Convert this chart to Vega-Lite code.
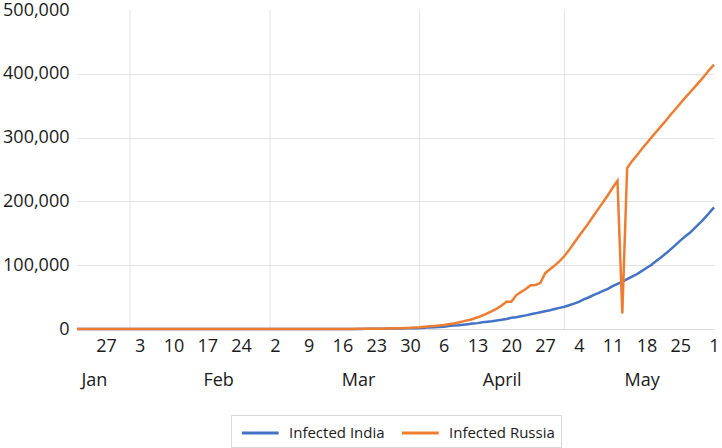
{
  "$schema": "https://vega.github.io/schema/vega-lite/v6.json",
  "width": 637,
  "height": 319,
  "padding": {"left": 2, "top": 1, "right": 0, "bottom": 0},
  "config": {
    "font": "Open Sans",
    "view": {"stroke": null},
    "axis": {"labelFont": "Open Sans", "labelColor": "#1a1a1a"},
    "legend": {"labelFont": "Open Sans", "labelColor": "#1a1a1a"}
  },
  "datasets": {
    "months": [
      {"date": "2020-02-01"}, {"date": "2020-03-01"}, {"date": "2020-04-01"}, {"date": "2020-05-01"}
    ],
    "cases": [
      {"date": "2020-01-21", "Infected India": 0, "Infected Russia": 0},
      {"date": "2020-01-22", "Infected India": 0, "Infected Russia": 0},
      {"date": "2020-01-23", "Infected India": 0, "Infected Russia": 0},
      {"date": "2020-01-24", "Infected India": 0, "Infected Russia": 0},
      {"date": "2020-01-25", "Infected India": 0, "Infected Russia": 0},
      {"date": "2020-01-26", "Infected India": 0, "Infected Russia": 0},
      {"date": "2020-01-27", "Infected India": 0, "Infected Russia": 0},
      {"date": "2020-01-28", "Infected India": 0, "Infected Russia": 0},
      {"date": "2020-01-29", "Infected India": 0, "Infected Russia": 0},
      {"date": "2020-01-30", "Infected India": 0, "Infected Russia": 0},
      {"date": "2020-01-31", "Infected India": 1, "Infected Russia": 2},
      {"date": "2020-02-01", "Infected India": 1, "Infected Russia": 2},
      {"date": "2020-02-02", "Infected India": 1, "Infected Russia": 2},
      {"date": "2020-02-03", "Infected India": 2, "Infected Russia": 2},
      {"date": "2020-02-04", "Infected India": 3, "Infected Russia": 2},
      {"date": "2020-02-05", "Infected India": 3, "Infected Russia": 2},
      {"date": "2020-02-06", "Infected India": 3, "Infected Russia": 2},
      {"date": "2020-02-07", "Infected India": 3, "Infected Russia": 2},
      {"date": "2020-02-08", "Infected India": 3, "Infected Russia": 2},
      {"date": "2020-02-09", "Infected India": 3, "Infected Russia": 2},
      {"date": "2020-02-10", "Infected India": 3, "Infected Russia": 2},
      {"date": "2020-02-11", "Infected India": 3, "Infected Russia": 2},
      {"date": "2020-02-12", "Infected India": 3, "Infected Russia": 2},
      {"date": "2020-02-13", "Infected India": 3, "Infected Russia": 2},
      {"date": "2020-02-14", "Infected India": 3, "Infected Russia": 2},
      {"date": "2020-02-15", "Infected India": 3, "Infected Russia": 2},
      {"date": "2020-02-16", "Infected India": 3, "Infected Russia": 2},
      {"date": "2020-02-17", "Infected India": 3, "Infected Russia": 2},
      {"date": "2020-02-18", "Infected India": 3, "Infected Russia": 2},
      {"date": "2020-02-19", "Infected India": 3, "Infected Russia": 2},
      {"date": "2020-02-20", "Infected India": 3, "Infected Russia": 2},
      {"date": "2020-02-21", "Infected India": 3, "Infected Russia": 2},
      {"date": "2020-02-22", "Infected India": 3, "Infected Russia": 2},
      {"date": "2020-02-23", "Infected India": 3, "Infected Russia": 2},
      {"date": "2020-02-24", "Infected India": 3, "Infected Russia": 2},
      {"date": "2020-02-25", "Infected India": 3, "Infected Russia": 2},
      {"date": "2020-02-26", "Infected India": 3, "Infected Russia": 2},
      {"date": "2020-02-27", "Infected India": 3, "Infected Russia": 2},
      {"date": "2020-02-28", "Infected India": 3, "Infected Russia": 2},
      {"date": "2020-02-29", "Infected India": 3, "Infected Russia": 2},
      {"date": "2020-03-01", "Infected India": 3, "Infected Russia": 2},
      {"date": "2020-03-02", "Infected India": 3, "Infected Russia": 3},
      {"date": "2020-03-03", "Infected India": 5, "Infected Russia": 3},
      {"date": "2020-03-04", "Infected India": 5, "Infected Russia": 3},
      {"date": "2020-03-05", "Infected India": 28, "Infected Russia": 4},
      {"date": "2020-03-06", "Infected India": 30, "Infected Russia": 4},
      {"date": "2020-03-07", "Infected India": 31, "Infected Russia": 13},
      {"date": "2020-03-08", "Infected India": 34, "Infected Russia": 13},
      {"date": "2020-03-09", "Infected India": 39, "Infected Russia": 17},
      {"date": "2020-03-10", "Infected India": 43, "Infected Russia": 17},
      {"date": "2020-03-11", "Infected India": 56, "Infected Russia": 20},
      {"date": "2020-03-12", "Infected India": 62, "Infected Russia": 28},
      {"date": "2020-03-13", "Infected India": 73, "Infected Russia": 45},
      {"date": "2020-03-14", "Infected India": 82, "Infected Russia": 59},
      {"date": "2020-03-15", "Infected India": 102, "Infected Russia": 63},
      {"date": "2020-03-16", "Infected India": 113, "Infected Russia": 90},
      {"date": "2020-03-17", "Infected India": 119, "Infected Russia": 114},
      {"date": "2020-03-18", "Infected India": 142, "Infected Russia": 147},
      {"date": "2020-03-19", "Infected India": 156, "Infected Russia": 199},
      {"date": "2020-03-20", "Infected India": 194, "Infected Russia": 253},
      {"date": "2020-03-21", "Infected India": 244, "Infected Russia": 306},
      {"date": "2020-03-22", "Infected India": 330, "Infected Russia": 367},
      {"date": "2020-03-23", "Infected India": 396, "Infected Russia": 438},
      {"date": "2020-03-24", "Infected India": 499, "Infected Russia": 495},
      {"date": "2020-03-25", "Infected India": 536, "Infected Russia": 658},
      {"date": "2020-03-26", "Infected India": 657, "Infected Russia": 840},
      {"date": "2020-03-27", "Infected India": 727, "Infected Russia": 1036},
      {"date": "2020-03-28", "Infected India": 887, "Infected Russia": 1264},
      {"date": "2020-03-29", "Infected India": 987, "Infected Russia": 1534},
      {"date": "2020-03-30", "Infected India": 1024, "Infected Russia": 1836},
      {"date": "2020-03-31", "Infected India": 1251, "Infected Russia": 2337},
      {"date": "2020-04-01", "Infected India": 1397, "Infected Russia": 2777},
      {"date": "2020-04-02", "Infected India": 1998, "Infected Russia": 3548},
      {"date": "2020-04-03", "Infected India": 2543, "Infected Russia": 4149},
      {"date": "2020-04-04", "Infected India": 2567, "Infected Russia": 4731},
      {"date": "2020-04-05", "Infected India": 3082, "Infected Russia": 5389},
      {"date": "2020-04-06", "Infected India": 3588, "Infected Russia": 6343},
      {"date": "2020-04-07", "Infected India": 4778, "Infected Russia": 7497},
      {"date": "2020-04-08", "Infected India": 5311, "Infected Russia": 8672},
      {"date": "2020-04-09", "Infected India": 5916, "Infected Russia": 10131},
      {"date": "2020-04-10", "Infected India": 6725, "Infected Russia": 11917},
      {"date": "2020-04-11", "Infected India": 7598, "Infected Russia": 13584},
      {"date": "2020-04-12", "Infected India": 8446, "Infected Russia": 15770},
      {"date": "2020-04-13", "Infected India": 9205, "Infected Russia": 18328},
      {"date": "2020-04-14", "Infected India": 10453, "Infected Russia": 21102},
      {"date": "2020-04-15", "Infected India": 11487, "Infected Russia": 24490},
      {"date": "2020-04-16", "Infected India": 12322, "Infected Russia": 27938},
      {"date": "2020-04-17", "Infected India": 13430, "Infected Russia": 32008},
      {"date": "2020-04-18", "Infected India": 14352, "Infected Russia": 36793},
      {"date": "2020-04-19", "Infected India": 15722, "Infected Russia": 42853},
      {"date": "2020-04-20", "Infected India": 17615, "Infected Russia": 42853},
      {"date": "2020-04-21", "Infected India": 18539, "Infected Russia": 52763},
      {"date": "2020-04-22", "Infected India": 20080, "Infected Russia": 57999},
      {"date": "2020-04-23", "Infected India": 21370, "Infected Russia": 62773},
      {"date": "2020-04-24", "Infected India": 23077, "Infected Russia": 68622},
      {"date": "2020-04-25", "Infected India": 24530, "Infected Russia": 69000},
      {"date": "2020-04-26", "Infected India": 26283, "Infected Russia": 72000},
      {"date": "2020-04-27", "Infected India": 27890, "Infected Russia": 87147},
      {"date": "2020-04-28", "Infected India": 29451, "Infected Russia": 93558},
      {"date": "2020-04-29", "Infected India": 31324, "Infected Russia": 99399},
      {"date": "2020-04-30", "Infected India": 33062, "Infected Russia": 106498},
      {"date": "2020-05-01", "Infected India": 34863, "Infected Russia": 114431},
      {"date": "2020-05-02", "Infected India": 37257, "Infected Russia": 124054},
      {"date": "2020-05-03", "Infected India": 39699, "Infected Russia": 134687},
      {"date": "2020-05-04", "Infected India": 42505, "Infected Russia": 145268},
      {"date": "2020-05-05", "Infected India": 46437, "Infected Russia": 155370},
      {"date": "2020-05-06", "Infected India": 49400, "Infected Russia": 165929},
      {"date": "2020-05-07", "Infected India": 52987, "Infected Russia": 177160},
      {"date": "2020-05-08", "Infected India": 56351, "Infected Russia": 187859},
      {"date": "2020-05-09", "Infected India": 59695, "Infected Russia": 198676},
      {"date": "2020-05-10", "Infected India": 62808, "Infected Russia": 209688},
      {"date": "2020-05-11", "Infected India": 67161, "Infected Russia": 221344},
      {"date": "2020-05-12", "Infected India": 70768, "Infected Russia": 232243},
      {"date": "2020-05-13", "Infected India": 74292, "Infected Russia": 24227},
      {"date": "2020-05-14", "Infected India": 78055, "Infected Russia": 252245},
      {"date": "2020-05-15", "Infected India": 81997, "Infected Russia": 262843},
      {"date": "2020-05-16", "Infected India": 85784, "Infected Russia": 272043},
      {"date": "2020-05-17", "Infected India": 90648, "Infected Russia": 281752},
      {"date": "2020-05-18", "Infected India": 95698, "Infected Russia": 290678},
      {"date": "2020-05-19", "Infected India": 100328, "Infected Russia": 299941},
      {"date": "2020-05-20", "Infected India": 106475, "Infected Russia": 308705},
      {"date": "2020-05-21", "Infected India": 112028, "Infected Russia": 317554},
      {"date": "2020-05-22", "Infected India": 118226, "Infected Russia": 326448},
      {"date": "2020-05-23", "Infected India": 124794, "Infected Russia": 335882},
      {"date": "2020-05-24", "Infected India": 131423, "Infected Russia": 344481},
      {"date": "2020-05-25", "Infected India": 138536, "Infected Russia": 353427},
      {"date": "2020-05-26", "Infected India": 144950, "Infected Russia": 362342},
      {"date": "2020-05-27", "Infected India": 150793, "Infected Russia": 370680},
      {"date": "2020-05-28", "Infected India": 158086, "Infected Russia": 379051},
      {"date": "2020-05-29", "Infected India": 165386, "Infected Russia": 387623},
      {"date": "2020-05-30", "Infected India": 173491, "Infected Russia": 396575},
      {"date": "2020-05-31", "Infected India": 181827, "Infected Russia": 405843},
      {"date": "2020-06-01", "Infected India": 190609, "Infected Russia": 414328}
    ]
  },
  "layer": [
    {
      "data": {"name": "months"},
      "mark": {"type": "rule", "color": "#e3e3e3", "strokeWidth": 1},
      "encoding": {
        "x": {
          "field": "date",
          "type": "temporal",
          "scale": {
            "type": "utc",
            "domain": [
              {"year": 2020, "month": 1, "date": 21, "utc": true},
              {"year": 2020, "month": 6, "date": 1, "utc": true}
            ]
          },
          "axis": {
            "orient": "bottom",
            "offset": 34,
            "title": null,
            "domain": false,
            "ticks": false,
            "grid": false,
            "labelFontSize": 18,
            "labelPadding": 8,
            "labelFlush": false,
            "labelOverlap": false,
            "values": [
              {"year": 2020, "month": 1, "date": 24, "hours": 12, "utc": true},
              {"year": 2020, "month": 2, "date": 19, "hours": 6, "utc": true},
              {"year": 2020, "month": 3, "date": 19, "hours": 6, "utc": true},
              {"year": 2020, "month": 4, "date": 18, "utc": true},
              {"year": 2020, "month": 5, "date": 17, "utc": true}
            ],
            "labelExpr": "utcmonth(datum.value) == 3 ? 'April' : utcFormat(datum.value, '%b')"
          }
        }
      }
    },
    {
      "data": {"name": "cases"},
      "transform": [
        {"fold": ["Infected India", "Infected Russia"], "as": ["series", "value"]}
      ],
      "mark": {"type": "line", "strokeWidth": 2.5},
      "encoding": {
        "x": {
          "field": "date",
          "type": "temporal",
          "scale": {
            "type": "utc",
            "domain": [
              {"year": 2020, "month": 1, "date": 21, "utc": true},
              {"year": 2020, "month": 6, "date": 1, "utc": true}
            ]
          },
          "axis": {
            "orient": "bottom",
            "title": null,
            "domain": true,
            "domainColor": "#d9d9d9",
            "ticks": false,
            "grid": false,
            "labelFontSize": 18,
            "labelPadding": 8,
            "labelFlush": false,
            "labelOverlap": false,
            "values": [
              {"year": 2020, "month": 1, "date": 27, "utc": true},
              {"year": 2020, "month": 2, "date": 3, "utc": true},
              {"year": 2020, "month": 2, "date": 10, "utc": true},
              {"year": 2020, "month": 2, "date": 17, "utc": true},
              {"year": 2020, "month": 2, "date": 24, "utc": true},
              {"year": 2020, "month": 3, "date": 2, "utc": true},
              {"year": 2020, "month": 3, "date": 9, "utc": true},
              {"year": 2020, "month": 3, "date": 16, "utc": true},
              {"year": 2020, "month": 3, "date": 23, "utc": true},
              {"year": 2020, "month": 3, "date": 30, "utc": true},
              {"year": 2020, "month": 4, "date": 6, "utc": true},
              {"year": 2020, "month": 4, "date": 13, "utc": true},
              {"year": 2020, "month": 4, "date": 20, "utc": true},
              {"year": 2020, "month": 4, "date": 27, "utc": true},
              {"year": 2020, "month": 5, "date": 4, "utc": true},
              {"year": 2020, "month": 5, "date": 11, "utc": true},
              {"year": 2020, "month": 5, "date": 18, "utc": true},
              {"year": 2020, "month": 5, "date": 25, "utc": true},
              {"year": 2020, "month": 6, "date": 1, "utc": true}
            ],
            "labelExpr": "utcFormat(datum.value, '%-d')"
          }
        },
        "y": {
          "field": "value",
          "type": "quantitative",
          "scale": {"domain": [0, 500000], "nice": false},
          "axis": {
            "title": null,
            "domain": false,
            "ticks": false,
            "values": [0, 100000, 200000, 300000, 400000, 500000],
            "labelExpr": "format(datum.value, ',.0f')",
            "labelFontSize": 18,
            "labelPadding": 8,
            "labelFlush": false,
            "gridColor": "#e3e3e3",
            "gridOpacity": {"condition": {"test": "datum.value == 500000", "value": 0}, "value": 1}
          }
        },
        "color": {
          "field": "series",
          "type": "nominal",
          "scale": {
            "domain": ["Infected India", "Infected Russia"],
            "range": ["#4472C4", "#ED7D31"]
          },
          "legend": {
            "title": null,
            "orient": "none",
            "legendX": 154,
            "legendY": 405,
            "direction": "horizontal",
            "symbolType": "M-0.7,0H2.9",
            "symbolStrokeWidth": 3,
            "symbolSize": 420,
            "labelFontSize": 15,
            "labelOffset": 28,
            "columnPadding": 10,
            "strokeColor": "#d9d9d9",
            "padding": 6
          }
        }
      }
    }
  ],
  "resolve": {"axis": {"x": "independent"}}
}
